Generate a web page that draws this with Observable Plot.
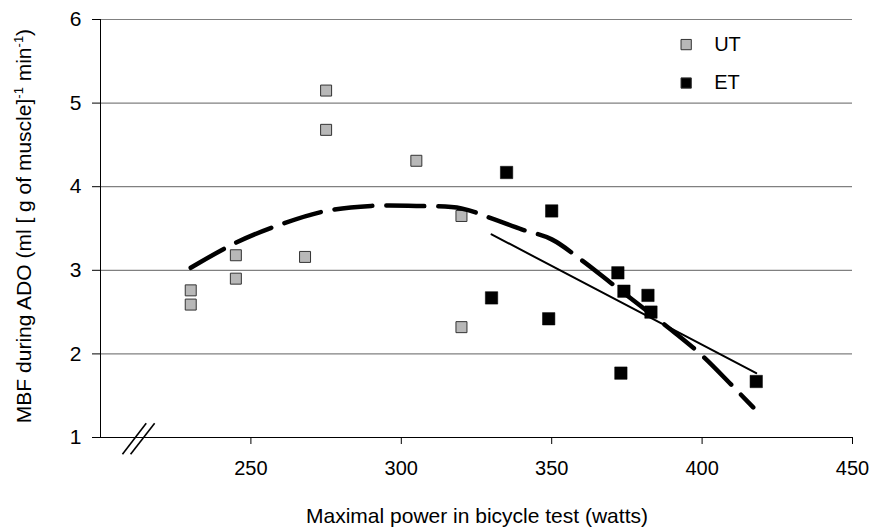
<!DOCTYPE html>
<html>
<head>
<meta charset="utf-8">
<script src="https://cdn.jsdelivr.net/npm/d3@7"></script>
<script src="https://cdn.jsdelivr.net/npm/@observablehq/plot@0.6"></script>
<style>
  html, body { margin: 0; padding: 0; background: #fff; }
  svg { display: block; }
</style>
</head>
<body>
<div id="chart"></div>
<script>
// UT (untrained) subjects
const utX = [230, 230, 245, 245, 268, 275, 275, 305, 320, 320];
const utY = [2.76, 2.59, 3.18, 2.90, 3.16, 5.15, 4.68, 4.31, 3.65, 2.32];
// ET (endurance trained) subjects
const etX = [330, 335, 349, 350, 372, 373, 374, 382, 383, 418];
const etY = [2.67, 4.17, 2.42, 3.71, 2.97, 1.77, 2.75, 2.70, 2.50, 1.67];
// polynomial trend (all subjects)
const trendX = [230, 245, 260, 275, 290, 305, 320, 330, 340, 350, 360, 370, 380, 390, 400, 410, 417];
const trendY = [3.03, 3.33, 3.55, 3.71, 3.77, 3.77, 3.74, 3.62, 3.49, 3.37, 3.12, 2.84, 2.56, 2.28, 1.98, 1.62, 1.36];
// linear fit (ET)
const fitX = [330, 418];
const fitY = [3.43, 1.77];
// axes
const xTicks = [250, 300, 350, 400, 450];
const yTicks = [1, 2, 3, 4, 5, 6];
const gridY = [2, 3, 4, 5, 6];
// legend
const legendNames = ["UT", "ET"];
const legendFill = ["#b8b8b8", "#000000"];
const legendX = 394.7;
const legendTextX = 404.0;
const legendY = [5.70, 5.24];
// axis break marks
const breakX1 = [207.3, 210.0];
const breakX2 = [215.2, 218.0];
const breakY1 = [0.80, 0.80];
const breakY2 = [1.17, 1.17];

const ut = utX.map((x, i) => ({x, y: utY[i]}));
const et = etX.map((x, i) => ({x, y: etY[i]}));
const trend = trendX.map((x, i) => ({x, y: trendY[i]}));
const fit = fitX.map((x, i) => ({x, y: fitY[i]}));
const legend = legendNames.map((n, i) => ({n, fill: legendFill[i], y: legendY[i]}));
const breaks = breakX1.map((x1, i) => ({x1, x2: breakX2[i], y1: breakY1[i], y2: breakY2[i]}));

const FONT = "'Liberation Sans', Arial, sans-serif";

const plot = Plot.plot({
  width: 870,
  height: 527,
  marginLeft: 100,
  marginRight: 18,
  marginTop: 19,
  marginBottom: 90,
  style: {fontFamily: FONT, fontSize: "20px", background: "#fff", color: "#000"},
  x: {domain: [200, 450]},
  y: {domain: [1, 6]},
  marks: [
    Plot.ruleY(gridY, {stroke: "#808080", strokeWidth: 1.2}),
    Plot.ruleY([1], {stroke: "#000", strokeWidth: 1.2}),
    Plot.ruleX([200], {stroke: "#000", strokeWidth: 1}),
    Plot.axisY({ticks: yTicks, tickSize: 8, tickPadding: 11, label: null, fontSize: 21, tickFormat: d3.format("d")}),
    Plot.axisX({ticks: xTicks, tickSize: 7, tickPadding: 16, label: null, fontSize: 20, tickFormat: d3.format("d")}),
    Plot.link(breaks, {x1: "x1", x2: "x2", y1: "y1", y2: "y2", stroke: "#000", strokeWidth: 1.6, clip: false}),
    Plot.dot(ut, {x: "x", y: "y", symbol: "square", r: 6.2, fill: "#b8b8b8", stroke: "#333", strokeWidth: 1}),
    Plot.dot(et, {x: "x", y: "y", symbol: "square", r: 7, fill: "#000", stroke: "#000", strokeWidth: 0.5}),
    Plot.line(trend, {x: "x", y: "y", curve: "catmull-rom", stroke: "#000", strokeWidth: 4.5, strokeDasharray: "38,14"}),
    Plot.line(fit, {x: "x", y: "y", stroke: "#000", strokeWidth: 2}),
    Plot.dot(legend, {x: () => legendX, y: "y", symbol: "square", r: 5.8, fill: "fill", stroke: "#333", strokeWidth: 1}),
    Plot.text(legend, {x: () => legendTextX, y: "y", text: "n", textAnchor: "start", fontSize: 20})
  ]
});

document.getElementById("chart").appendChild(plot);

const svg = d3.select(plot);
// y-axis title with superscripts
const yt = svg.append("text")
  .attr("transform", "translate(31,226) rotate(-90)")
  .attr("text-anchor", "middle")
  .style("font-size", "21px")
  .style("font-family", FONT)
  .attr("fill", "#000");
yt.append("tspan").text("MBF during ADO (ml [ g of muscle]");
yt.append("tspan").attr("dy", "-8").style("font-size", "13px").text("-1");
yt.append("tspan").attr("dy", "8").text(" min");
yt.append("tspan").attr("dy", "-8").style("font-size", "13px").text("-1");
yt.append("tspan").attr("dy", "8").text(")");

// x-axis title
svg.append("text")
  .attr("x", 477)
  .attr("y", 523)
  .attr("text-anchor", "middle")
  .style("font-size", "21px")
  .style("font-family", FONT)
  .attr("fill", "#000")
  .text("Maximal power in bicycle test (watts)");
</script>
</body>
</html>
